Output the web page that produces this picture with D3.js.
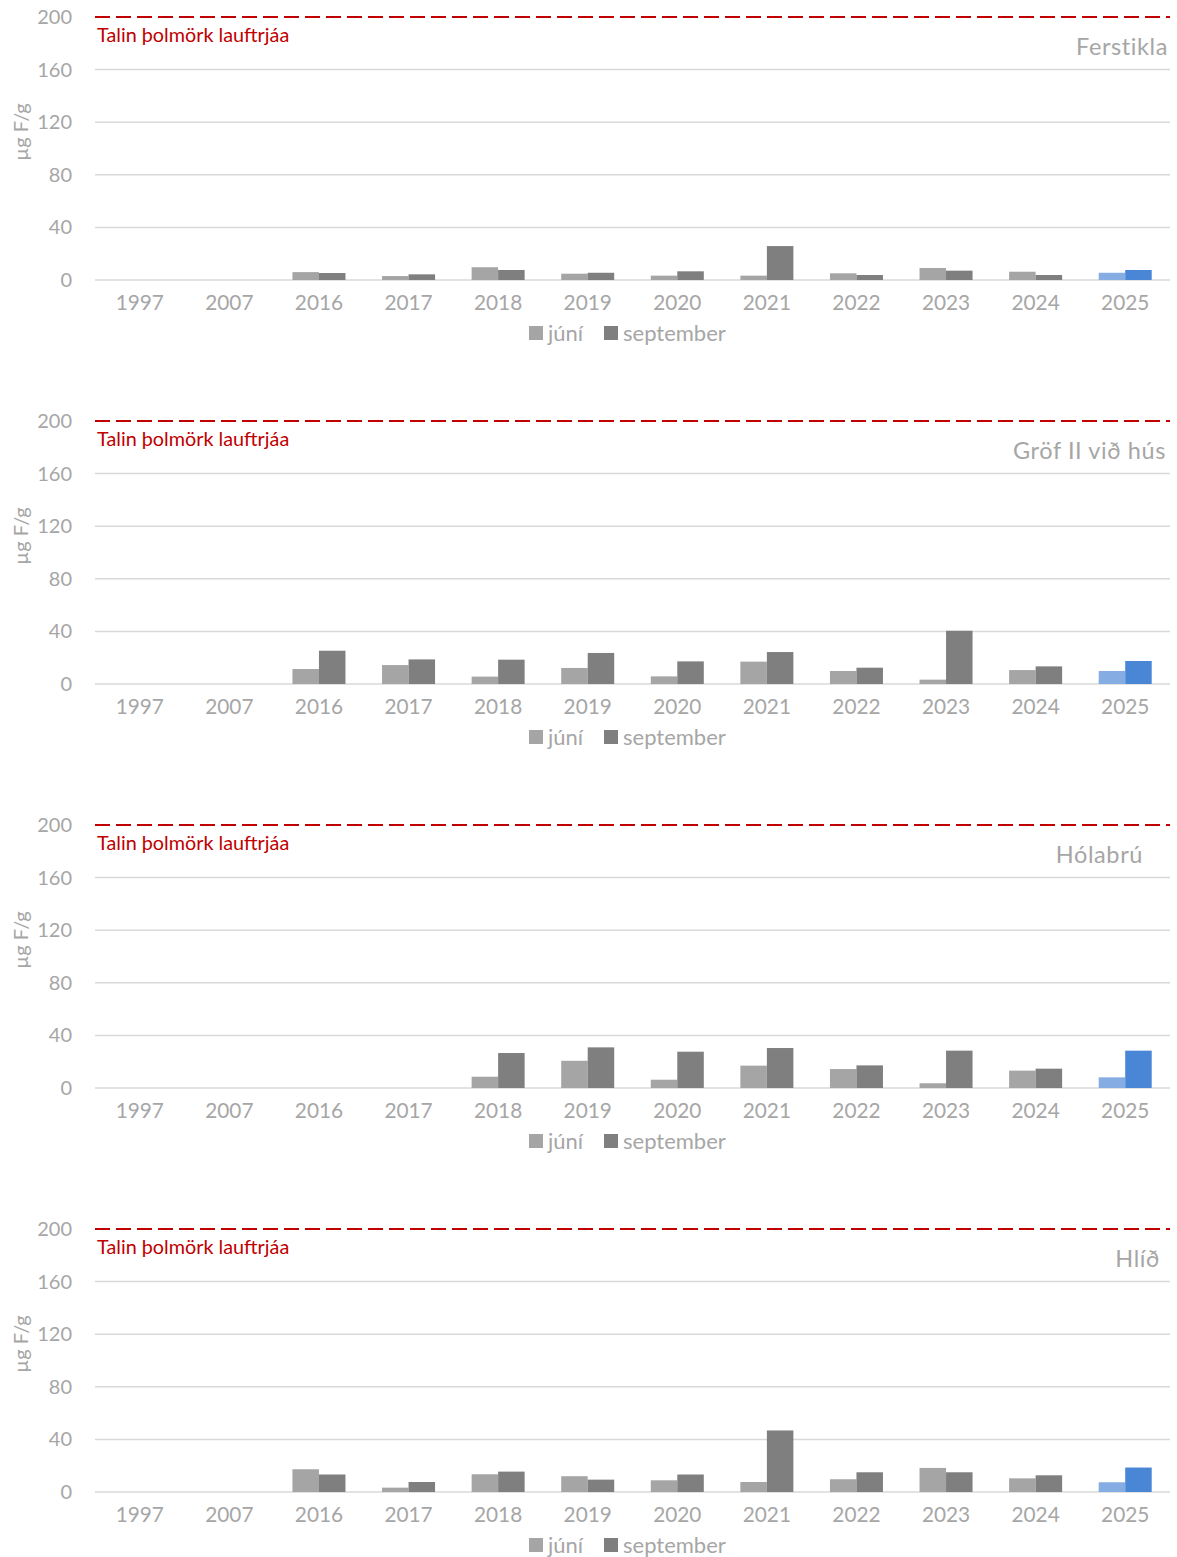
<!DOCTYPE html>
<html><head><meta charset="utf-8">
<script src="https://cdn.jsdelivr.net/npm/d3@7"></script>
<style>
body{margin:0;background:#fff;}
text{font-family:Lato,"Open Sans",sans-serif;}
</style></head>
<body><svg id="c" width="1177" height="1557"></svg>
<script>
const years = ["1997","2007","2016","2017","2018","2019","2020","2021","2022","2023","2024","2025"];
const series = ["júní","september"];
const sites = ["Ferstikla","Gröf II við hús","Hólabrú","Hlíð"];
const yTicks = [0,40,80,120,160,200];
const threshold = 200;
const thresholdLabel = "Talin þolmörk lauftrjáa";
const yTitle = "µg F/g";
const juniFerstikla = [null,null,6,3,9.7,4.8,3.3,3.3,5.1,9.1,6.3,5.5];
const septFerstikla = [null,null,5.3,4.3,7.6,5.5,6.6,25.8,3.8,7.1,3.8,7.6];
const juniGrof = [null,null,11.4,14.4,5.6,12.2,5.8,17,9.9,3.3,10.6,9.9];
const septGrof = [null,null,25.3,18.7,18.5,23.6,17.2,24.3,12.4,40.5,13.4,17.5];
const juniHolabru = [null,null,null,null,8.6,20.7,6.3,17,14.4,3.6,13.2,8.1];
const septHolabru = [null,null,null,null,26.6,30.9,27.6,30.4,17.2,28.4,14.7,28.4];
const juniHlid = [null,null,17.3,3.3,13.5,12,8.9,7.6,9.7,18.3,10.4,7.4];
const septHlid = [null,null,13.3,7.6,15.5,9.4,13.3,46.8,15,15,12.7,18.6];
const juniData = [juniFerstikla, juniGrof, juniHolabru, juniHlid];
const septData = [septFerstikla, septGrof, septHolabru, septHlid];

// layout (not data): right edge of each panel title
const titleRight = [1168,1166,1143,1160];

const colors = {"júní":"#a5a5a5","september":"#7f7f7f"};
const colorsLast = {"júní":"#86ace4","september":"#4a86d6"};
const grey = "#a6a6a6";

const svg = d3.select("#c");
const x = d3.scaleBand().domain(years).range([95,1170]).paddingInner(0).paddingOuter(0);
const xs = d3.scaleBand().domain(series).range([0,x.bandwidth()]).paddingOuter(0.69).paddingInner(0);

sites.forEach((site,i)=>{
  const off = i*404;
  const g = svg.append("g");
  const y = d3.scaleLinear().domain([0,200]).range([280+off,17+off]);
  g.selectAll("line.grid").data(yTicks.filter(t=>t!==threshold)).enter().append("line")
    .attr("x1",95).attr("x2",1170).attr("y1",d=>y(d)).attr("y2",d=>y(d))
    .attr("stroke","#d9d9d9").attr("stroke-width",1.5);
  g.selectAll("text.yt").data(yTicks).enter().append("text")
    .attr("x",72).attr("y",d=>y(d)).attr("dy","0.35em").attr("text-anchor","end")
    .attr("fill",grey).attr("font-size",20).text(d=>d);
  g.append("text").attr("transform",`translate(28,${off+132}) rotate(-90)`)
    .attr("text-anchor","middle").attr("fill",grey).attr("font-size",20).text(yTitle);
  const vals = [juniData[i], septData[i]];
  series.forEach((s,si)=>{
    const data = years.map((yr,k)=>({yr,k,v:vals[si][k]})).filter(d=>d.v!==null);
    g.selectAll(null).data(data).enter().append("rect")
      .attr("x",d=>x(d.yr)+xs(s)).attr("width",xs.bandwidth())
      .attr("y",d=>y(d.v)).attr("height",d=>y(0)-y(d.v))
      .attr("fill",d=>d.k===years.length-1?colorsLast[s]:colors[s]);
  });
  g.append("line").attr("x1",95).attr("x2",1170).attr("y1",y(threshold)).attr("y2",y(threshold))
    .attr("stroke","#c00000").attr("stroke-width",2).attr("stroke-dasharray","15,6");
  g.append("text").attr("x",97).attr("y",y(threshold)+25).attr("fill","#c00000")
    .attr("font-size",19.8).text(thresholdLabel);
  g.append("text").attr("x",titleRight[i]).attr("y",off+55).attr("text-anchor","end")
    .attr("fill",grey).attr("font-size",23.5).attr("letter-spacing",0.6).text(site);
  g.selectAll("text.xl").data(years).enter().append("text")
    .attr("x",d=>x(d)+x.bandwidth()/2).attr("y",y(0)+30).attr("text-anchor","middle")
    .attr("fill",grey).attr("font-size",20.8).text(d=>d);
  const ly = y(0)+53;
  const leg = [{s:"júní",x:529},{s:"september",x:604}];
  leg.forEach(l=>{
    g.append("rect").attr("x",l.x).attr("y",ly-7).attr("width",14).attr("height",14).attr("fill",colors[l.s]);
    g.append("text").attr("x",l.x+19).attr("y",ly).attr("dy","0.35em").attr("fill",grey)
      .attr("font-size",22).text(l.s);
  });
});
</script></body></html>
